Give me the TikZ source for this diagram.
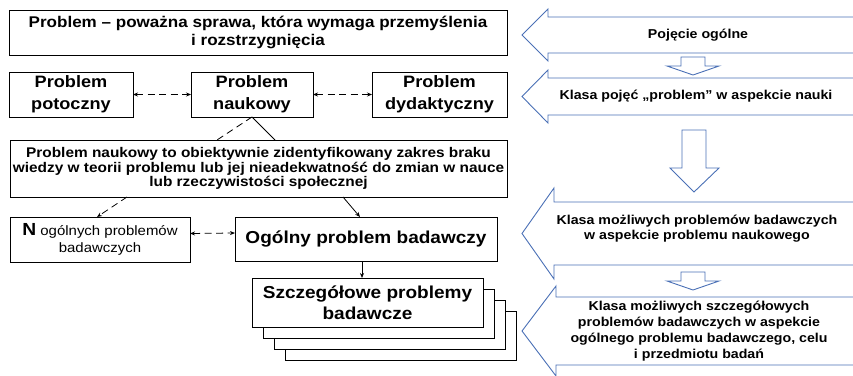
\documentclass[tikz,border=0pt]{standalone}
\usepackage{fontspec}
\setmainfont[FakeStretch=1.1]{Liberation Sans}
\usetikzlibrary{arrows.meta}
\definecolor{ablue}{RGB}{74,112,182}
\tikzset{
  box/.style={draw=black, line width=0.9pt, inner sep=0pt, outer sep=0pt, align=center, fill=white},
  conn/.style={line width=0.8pt},
  dconn/.style={conn, dash pattern=on 7pt off 4.5pt},
  tipend/.style={-{Stealth[length=5pt,width=4pt]}},
  dtip/.style={{Stealth[length=5pt,width=4pt]}-{Stealth[length=5pt,width=4pt]}},
  barrow/.style={draw=ablue, line width=0.9pt, fill=white, line join=miter},
  rtext/.style={font=\fontsize{12.9}{15}\selectfont\bfseries, align=center, text=black, inner sep=0pt},
  ftop/.style={font=\fontsize{15.5}{18}\selectfont\bfseries},
  fbig/.style={font=\fontsize{16.5}{22}\selectfont\bfseries},
  fdef/.style={font=\fontsize{14}{14.5}\selectfont\bfseries},
  fhuge/.style={font=\fontsize{17.3}{21}\selectfont\bfseries}
}
\begin{document}
\begin{tikzpicture}[x=1pt,y=-1pt]
\useasboundingbox (0,0) rectangle (853,375);
% ---------- right side: blue arrows ----------
\draw[barrow] (858,17) -- (548,17) -- (548,9) -- (522,35) -- (548,61) -- (548,53) -- (858,53);
\draw[barrow] (858,78) -- (548,78) -- (548,70) -- (522,96.5) -- (548,123) -- (548,115) -- (858,115);
\draw[barrow] (858,202) -- (554,202) -- (554,188) -- (522,233.5) -- (554,279) -- (554,265) -- (858,265);
\draw[barrow] (858,297) -- (556,297) -- (556,286) -- (522,331) -- (556,376) -- (556,365) -- (858,365);
% down arrows
\draw[barrow] (681,57) -- (705,57) -- (705,66) -- (719,66) -- (693,75) -- (667,66) -- (681,66) -- cycle;
\draw[barrow] (682,130) -- (706,130) -- (706,168) -- (719,168) -- (694,192) -- (670,168) -- (682,168) -- cycle;
\draw[barrow] (681,272) -- (705,272) -- (705,281) -- (719,281) -- (693,290) -- (667,281) -- (681,281) -- cycle;
% right texts
\node[rtext] (r1) at (698,35) {Pojęcie ogólne};
\node[rtext] (r2) at (696,96.5) {Klasa pojęć „problem” w aspekcie nauki};
\node[rtext] (r3) at (697,229) {Klasa możliwych problemów badawczych\\w aspekcie problemu naukowego};
\node[rtext, font=\fontsize{12.9}{16}\selectfont\bfseries] (r4) at (699,331) {Klasa możliwych szczegółowych\\problemów badawczych w aspekcie\\ogólnego problemu badawczego, celu\\i przedmiotu badań};
% ---------- left side ----------
\node[box, ftop, minimum width=498pt, minimum height=45pt] (top) at (258,32.5)
  {Problem – poważna sprawa, która wymaga przemyślenia\\i rozstrzygnięcia};
\node[box, fbig, minimum width=124pt, minimum height=45pt] (pot) at (71,94.5) {Problem\\potoczny};
\node[box, fbig, minimum width=122pt, minimum height=45pt] (nauk) at (252,94.5) {Problem\\naukowy};
\node[box, fbig, minimum width=135pt, minimum height=45pt] (dyd) at (439.5,94.5) {Problem\\dydaktyczny};
\node[box, fdef, minimum width=497pt, minimum height=57pt] (def) at (258.5,168.5)
  {Problem naukowy to obiektywnie zidentyfikowany zakres braku\\wiedzy w teorii problemu lub jej nieadekwatność do zmian w nauce\\lub rzeczywistości społecznej};
\node[box, minimum width=180pt, minimum height=45pt, font=\fontsize{13.6}{16.5}\selectfont] (nbox) at (100,239.5)
  {{\fontsize{17.5}{16}\selectfont\bfseries N} ogólnych problemów\\badawczych};
\node[box, fhuge, minimum width=262pt, minimum height=44pt] (og) at (366,239) {Ogólny problem badawczy};
\node[box, minimum width=231pt, minimum height=49pt] (sz3) at (400.5,335.5) {};
\node[box, minimum width=231pt, minimum height=49pt] (sz2) at (389.5,324.5) {};
\node[box, minimum width=231pt, minimum height=49pt] (sz1) at (378.5,313.5) {};
\node[box, fhuge, minimum width=231pt, minimum height=49pt] (sz) at (367.5,302.5) {Szczegółowe problemy\\badawcze};
% ---------- connectors ----------
\draw[dconn, dtip] (pot.east) -- (nauk.west);
\draw[dconn, dtip] (nauk.east) -- (dyd.west);
\draw[dconn] (nauk.south) -- ([xshift=-41.5pt]def.north);
\draw[conn] (nauk.south) -- ([xshift=16.5pt]def.north);
\draw[dconn, tipend] ([xshift=-131.5pt]def.south) -- ([xshift=-3pt]nbox.north);
\draw[conn, tipend] ([xshift=84.5pt]def.south) -- ([xshift=-6pt]og.north);
\draw[dconn, dtip] ([yshift=6pt]nbox.east) -- ([yshift=6pt]og.west);
\draw[conn, tipend] ([xshift=-4pt]og.south) -- ([xshift=-4pt]og.south |- sz.north);
\end{tikzpicture}
\end{document}
